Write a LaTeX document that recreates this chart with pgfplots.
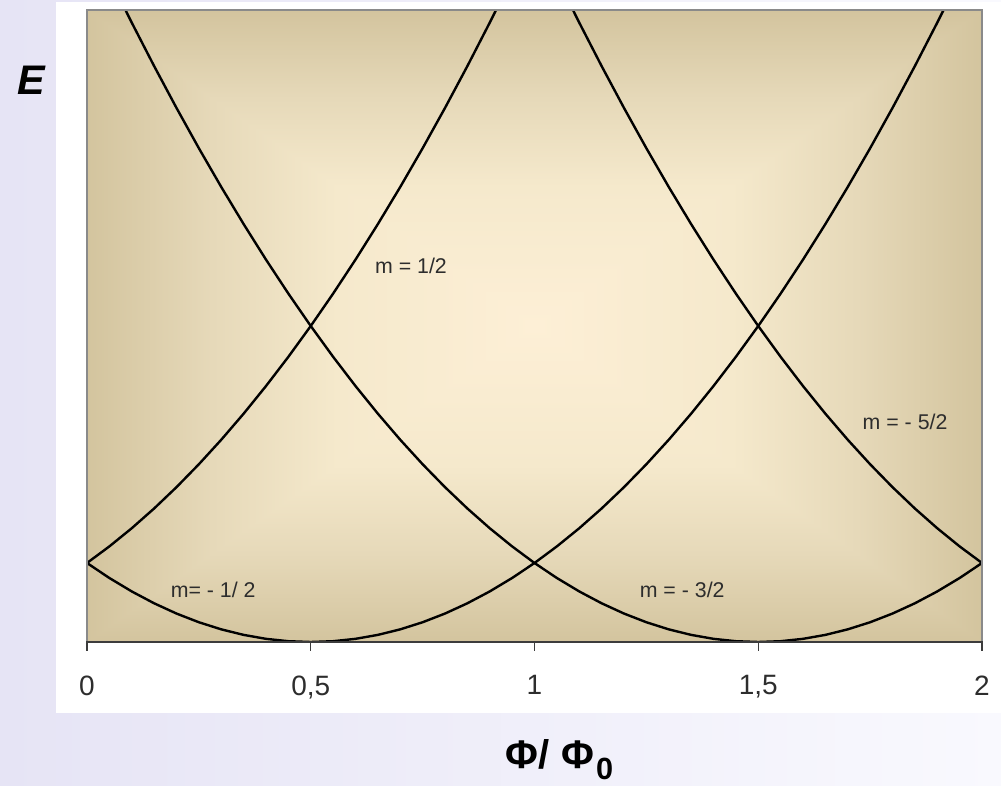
\documentclass[border=0pt]{standalone}
\usepackage{fontspec}
\setmainfont{Liberation Sans}
\usepackage{pgfplots}
\pgfplotsset{compat=1.18}

% page and panel colours
\definecolor{lavL}{RGB}{230,228,245}
\definecolor{lavR}{RGB}{249,249,254}
\definecolor{bgEdge}{RGB}{211,196,158}
\definecolor{bgMidA}{RGB}{230,217,185}
\definecolor{bgMidB}{RGB}{245,233,204}
\definecolor{bgCenter}{RGB}{253,239,214}
\definecolor{framegray}{RGB}{138,138,138}
\definecolor{axisdark}{RGB}{60,60,60}
\definecolor{labgray}{RGB}{45,45,45}

% rectangular "from centre" gradient, built from two linear shadings
\pgfdeclarehorizontalshading{panelH}{100bp}{color(0bp)=(bgEdge); color(25bp)=(bgEdge);
  color(32bp)=(bgMidA); color(39bp)=(bgMidB); color(50bp)=(bgCenter);
  color(61bp)=(bgMidB); color(68bp)=(bgMidA); color(75bp)=(bgEdge); color(100bp)=(bgEdge)}
\pgfdeclareverticalshading{panelV}{100bp}{color(0bp)=(bgEdge); color(25bp)=(bgEdge);
  color(32bp)=(bgMidA); color(39bp)=(bgMidB); color(50bp)=(bgCenter);
  color(61bp)=(bgMidB); color(68bp)=(bgMidA); color(75bp)=(bgEdge); color(100bp)=(bgEdge)}

\begin{document}
\begin{tikzpicture}
% backgrounds (1 unit = 0.75pt)
\begin{scope}[x=0.75pt,y=0.75pt]
  \shade[left color=lavL, right color=lavR] (0,0) rectangle (1001,786);
  \fill[white] (56,73) rectangle (1001,784);
  \shade[shading=panelH] (87,144) rectangle (982,776);
  \begin{scope}
    \clip (87,776) -- (982,776) -- (534.5,460) -- cycle
          (87,144) -- (982,144) -- (534.5,460) -- cycle;
    \shade[shading=panelV] (87,144) rectangle (982,776);
  \end{scope}
\end{scope}

\begin{axis}[
  at={(65.25pt,108pt)}, anchor=south west,
  scale only axis, width=671.25pt, height=474pt,
  xmin=0, xmax=2, ymin=0, ymax=2,
  axis line style={draw=none},
  xtick={0,0.5,1,1.5,2},
  xticklabels={0,{0,5},1,{1,5},2},
  ytick=\empty,
  tick align=outside, xtick pos=left,
  major tick length=6.75pt,
  every tick/.style={draw=axisdark, line width=0.9pt},
  xticklabel style={font=\fontsize{21}{25}\selectfont, text=labgray, yshift=-15pt},
  clip=true,
]
% m = 1/2
\addplot[black, line width=1.8pt] coordinates {
(0,0.25) (0.05,0.3025) (0.1,0.36) (0.15,0.4225) (0.2,0.49) (0.25,0.5625)
(0.3,0.64) (0.35,0.7225) (0.4,0.81) (0.45,0.9025) (0.5,1) (0.55,1.1025)
(0.6,1.21) (0.65,1.3225) (0.7,1.44) (0.75,1.5625) (0.8,1.69) (0.85,1.8225)
(0.9,1.96) (0.95,2.1025)};
% m = -1/2
\addplot[black, line width=1.8pt] coordinates {
(0,0.25) (0.05,0.2025) (0.1,0.16) (0.15,0.1225) (0.2,0.09) (0.25,0.0625)
(0.3,0.04) (0.35,0.0225) (0.4,0.01) (0.45,0.0025) (0.5,0) (0.55,0.0025)
(0.6,0.01) (0.65,0.0225) (0.7,0.04) (0.75,0.0625) (0.8,0.09) (0.85,0.1225)
(0.9,0.16) (0.95,0.2025) (1,0.25) (1.05,0.3025) (1.1,0.36) (1.15,0.4225)
(1.2,0.49) (1.25,0.5625) (1.3,0.64) (1.35,0.7225) (1.4,0.81) (1.45,0.9025)
(1.5,1) (1.55,1.1025) (1.6,1.21) (1.65,1.3225) (1.7,1.44) (1.75,1.5625)
(1.8,1.69) (1.85,1.8225) (1.9,1.96) (1.95,2.1025)};
% m = -3/2
\addplot[black, line width=1.8pt] coordinates {
(0.05,2.1025) (0.1,1.96) (0.15,1.8225) (0.2,1.69) (0.25,1.5625) (0.3,1.44)
(0.35,1.3225) (0.4,1.21) (0.45,1.1025) (0.5,1) (0.55,0.9025) (0.6,0.81)
(0.65,0.7225) (0.7,0.64) (0.75,0.5625) (0.8,0.49) (0.85,0.4225) (0.9,0.36)
(0.95,0.3025) (1,0.25) (1.05,0.2025) (1.1,0.16) (1.15,0.1225) (1.2,0.09)
(1.25,0.0625) (1.3,0.04) (1.35,0.0225) (1.4,0.01) (1.45,0.0025) (1.5,0)
(1.55,0.0025) (1.6,0.01) (1.65,0.0225) (1.7,0.04) (1.75,0.0625) (1.8,0.09)
(1.85,0.1225) (1.9,0.16) (1.95,0.2025) (2,0.25)};
% m = -5/2
\addplot[black, line width=1.8pt] coordinates {
(1.05,2.1025) (1.1,1.96) (1.15,1.8225) (1.2,1.69) (1.25,1.5625) (1.3,1.44)
(1.35,1.3225) (1.4,1.21) (1.45,1.1025) (1.5,1) (1.55,0.9025) (1.6,0.81)
(1.65,0.7225) (1.7,0.64) (1.75,0.5625) (1.8,0.49) (1.85,0.4225) (1.9,0.36)
(1.95,0.3025) (2,0.25)};

\node[font=\fontsize{16}{19}\selectfont, text=labgray] at (axis cs:0.724,1.19) {m = 1/2};
\node[font=\fontsize{16}{19}\selectfont, text=labgray] at (axis cs:1.828,0.696) {m = - 5/2};
\node[font=\fontsize{16}{19}\selectfont, text=labgray] at (axis cs:0.282,0.165) {m= - 1/ 2};
\node[font=\fontsize{16}{19}\selectfont, text=labgray] at (axis cs:1.33,0.165) {m = - 3/2};
\end{axis}

% frame and axis titles
\begin{scope}[x=0.75pt,y=0.75pt]
  \draw[framegray, line width=1.5pt] (87,144) -- (87,776) -- (982,776) -- (982,144);
  \draw[axisdark, line width=1.2pt] (86,144) -- (983,144);
  \node[anchor=base west, inner sep=0pt, font=\bfseries\itshape\fontsize{31}{36}\selectfont] at (17,691) {E};
  \node[anchor=base west, inner sep=0pt, font=\bfseries\fontsize{30}{34}\selectfont] at (505,17)
    {Φ/\kern9pt Φ\kern1.5pt\raisebox{-8pt}{\fontsize{23}{27}\selectfont 0}};
\end{scope}
\end{tikzpicture}
\end{document}
